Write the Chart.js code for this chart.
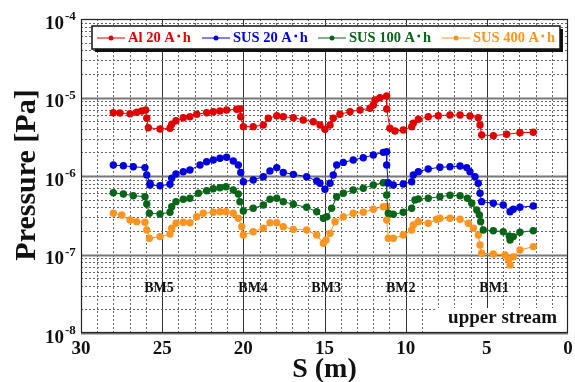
<!DOCTYPE html>
<html>
<head>
<meta charset="utf-8">
<script src="https://cdn.jsdelivr.net/npm/chart.js@4.4.1/dist/chart.umd.min.js"></script>
<style>
  body { margin: 0; background: #fff; }
  #wrap { width: 575px; height: 382px; }
</style>
</head>
<body>
<div id="wrap"><canvas id="chart" width="575" height="382"></canvas></div>
<script>
// S (m) и давление (Pa) по сериям
const sAl = [28.01, 27.60, 26.98, 26.57, 26.26, 26.02, 25.95, 25.85, 25.13, 24.52, 24.41, 24.15, 23.70, 23.29, 22.87, 22.26, 21.85, 21.44, 21.03, 20.41, 20.21, 20.16, 20.00, 19.39, 18.77, 18.46, 17.94, 17.54, 16.92, 16.31, 15.69, 15.28, 14.97, 14.66, 14.46, 14.05, 13.43, 12.81, 12.20, 11.99, 11.89, 11.58, 11.17, 11.17, 10.97, 10.66, 10.15, 9.63, 9.53, 9.22, 8.61, 7.99, 7.27, 6.65, 6.04, 5.53, 5.42, 5.32, 4.60, 3.78, 2.96, 2.14];
const pAl = [6.40e-6, 6.35e-6, 6.22e-6, 6.48e-6, 6.73e-6, 6.93e-6, 5.43e-6, 4.12e-6, 3.97e-6, 4.05e-6, 4.56e-6, 5.06e-6, 5.53e-6, 5.69e-6, 6.11e-6, 6.40e-6, 6.59e-6, 6.73e-6, 6.93e-6, 7.08e-6, 7.14e-6, 5.69e-6, 4.25e-6, 4.25e-6, 4.47e-6, 5.43e-6, 5.86e-6, 5.69e-6, 5.53e-6, 5.17e-6, 4.92e-6, 4.47e-6, 3.94e-6, 4.47e-6, 5.43e-6, 6.11e-6, 6.59e-6, 6.93e-6, 7.28e-6, 8.03e-6, 9.29e-6, 9.94e-6, 1.045e-5, 7.14e-6, 4.05e-6, 3.74e-6, 3.85e-6, 4.25e-6, 4.69e-6, 5.28e-6, 5.69e-6, 5.86e-6, 5.98e-6, 5.98e-6, 5.81e-6, 5.53e-6, 4.47e-6, 3.33e-6, 3.26e-6, 3.40e-6, 3.56e-6, 3.61e-6];

const sSus20 = [28.01, 27.39, 26.78, 26.06, 25.95, 25.75, 25.75, 25.13, 24.52, 24.41, 24.15, 23.70, 23.29, 22.67, 22.26, 21.85, 21.44, 21.03, 20.62, 20.31, 20.16, 20.00, 19.39, 18.77, 18.36, 17.94, 17.54, 16.92, 16.10, 15.48, 15.28, 14.97, 14.66, 14.46, 14.25, 13.84, 13.23, 12.61, 11.99, 11.38, 11.17, 11.17, 11.07, 10.76, 10.15, 9.63, 9.53, 9.22, 8.61, 7.89, 7.27, 6.65, 6.24, 6.04, 5.73, 5.53, 5.42, 5.32, 4.60, 3.99, 3.57, 3.37, 2.96, 2.14];
const pSus20 = [1.38e-6, 1.35e-6, 1.31e-6, 1.28e-6, 1.03e-6, 8.07e-7, 7.68e-7, 7.52e-7, 7.84e-7, 9.35e-7, 1.06e-6, 1.135e-6, 1.19e-6, 1.38e-6, 1.52e-6, 1.60e-6, 1.68e-6, 1.73e-6, 1.55e-6, 1.38e-6, 1.11e-6, 8.46e-7, 8.89e-7, 9.80e-7, 1.16e-6, 1.28e-6, 1.11e-6, 1.05e-6, 9.80e-7, 8.64e-7, 8.07e-7, 6.77e-7, 8.07e-7, 1.03e-6, 1.38e-6, 1.49e-6, 1.60e-6, 1.71e-6, 1.85e-6, 2.00e-6, 2.04e-6, 1.38e-6, 8.15e-7, 7.68e-7, 7.91e-7, 8.46e-7, 1.03e-6, 1.135e-6, 1.23e-6, 1.29e-6, 1.31e-6, 1.34e-6, 1.28e-6, 1.135e-6, 9.80e-7, 8.07e-7, 6.02e-7, 4.71e-7, 4.49e-7, 4.27e-7, 3.51e-7, 3.77e-7, 3.99e-7, 4.15e-7];

const sSus100 = [28.01, 27.39, 26.78, 26.06, 25.95, 25.79, 25.13, 24.52, 24.41, 24.15, 23.70, 23.29, 22.77, 22.26, 21.85, 21.44, 21.07, 20.62, 20.31, 20.21, 20.00, 19.39, 18.77, 18.36, 17.94, 17.54, 16.92, 16.10, 15.48, 15.07, 14.86, 14.56, 14.25, 13.84, 13.23, 12.61, 11.99, 11.38, 11.17, 11.17, 11.07, 10.76, 10.15, 9.63, 9.43, 9.22, 8.61, 7.89, 7.27, 6.65, 6.20, 5.93, 5.62, 5.46, 5.38, 5.22, 4.60, 3.99, 3.62, 3.57, 3.37, 2.96, 2.14];
const pSus100 = [6.13e-7, 5.90e-7, 5.61e-7, 5.45e-7, 4.40e-7, 3.35e-7, 3.28e-7, 3.45e-7, 4.06e-7, 4.71e-7, 5.05e-7, 5.20e-7, 6.02e-7, 6.50e-7, 6.89e-7, 7.10e-7, 7.31e-7, 6.64e-7, 5.90e-7, 4.71e-7, 3.58e-7, 3.88e-7, 4.27e-7, 5.05e-7, 5.20e-7, 4.71e-7, 4.36e-7, 3.99e-7, 3.51e-7, 2.89e-7, 3.03e-7, 3.88e-7, 5.45e-7, 6.02e-7, 6.64e-7, 6.97e-7, 7.68e-7, 8.22e-7, 8.22e-7, 5.73e-7, 3.35e-7, 3.25e-7, 3.45e-7, 3.88e-7, 4.95e-7, 5.09e-7, 5.20e-7, 5.45e-7, 5.68e-7, 5.61e-7, 5.20e-7, 4.49e-7, 3.69e-7, 3.18e-7, 2.62e-7, 2.05e-7, 2.01e-7, 1.95e-7, 1.72e-7, 1.53e-7, 1.69e-7, 1.92e-7, 2.01e-7];

const sSus400 = [28.01, 27.49, 26.98, 26.57, 26.06, 25.95, 25.79, 25.13, 24.52, 24.41, 24.15, 23.70, 23.29, 22.87, 22.47, 21.85, 21.44, 21.07, 20.62, 20.31, 20.10, 20.00, 19.39, 18.77, 18.36, 17.94, 17.54, 16.92, 16.10, 15.48, 15.07, 14.91, 14.66, 14.35, 13.84, 13.23, 12.61, 11.99, 11.38, 11.17, 11.17, 11.07, 10.76, 10.15, 9.63, 9.53, 9.22, 8.61, 8.09, 7.89, 7.27, 6.65, 6.14, 5.83, 5.53, 5.42, 5.32, 4.60, 3.88, 3.68, 3.57, 3.37, 2.96, 2.14];
const pSus400 = [3.35e-7, 3.18e-7, 2.75e-7, 2.62e-7, 2.57e-7, 2.05e-7, 1.61e-7, 1.69e-7, 1.82e-7, 2.16e-7, 2.50e-7, 2.57e-7, 2.54e-7, 3.03e-7, 3.35e-7, 3.45e-7, 3.51e-7, 3.51e-7, 3.35e-7, 2.89e-7, 2.26e-7, 1.77e-7, 1.95e-7, 2.16e-7, 2.54e-7, 2.54e-7, 2.26e-7, 2.09e-7, 2.05e-7, 1.77e-7, 1.39e-7, 1.53e-7, 1.86e-7, 2.62e-7, 3.03e-7, 3.35e-7, 3.45e-7, 3.77e-7, 4.06e-7, 4.06e-7, 2.75e-7, 1.61e-7, 1.61e-7, 1.77e-7, 2.05e-7, 2.38e-7, 2.62e-7, 2.50e-7, 2.81e-7, 2.89e-7, 2.89e-7, 2.81e-7, 2.50e-7, 2.16e-7, 1.77e-7, 1.32e-7, 1.04e-7, 1.015e-7, 9.85e-8, 8.69e-8, 7.35e-8, 9.37e-8, 1.14e-7, 1.26e-7];

const seriesLabels = ['Al 20 A\uFF65h', 'SUS 20 A\uFF65h', 'SUS 100 A\uFF65h', 'SUS 400 A\uFF65h'];
const seriesColors = ['#e00000', '#0000dc', '#086418', '#ff9420'];

// подписи магнитов и отметки осей
const bmNames = ['BM5', 'BM4', 'BM3', 'BM2', 'BM1'];
const bmPos = [25.2, 19.4, 14.9, 10.3, 4.55];
const xTicks = [30, 25, 20, 15, 10, 5, 0];
const yExps = [-8, -7, -6, -5, -4];

const SERIF = '"Liberation Serif", "Times New Roman", serif';

function toPoints(s, p) {
  return s.map((v, i) => ({ x: v, y: p[i] }));
}

const allS = [sAl, sSus20, sSus100, sSus400];
const allP = [pAl, pSus20, pSus100, pSus400];

const datasets = allS.map((s, i) => ({
  label: seriesLabels[i],
  data: toPoints(s, allP[i]),
  borderColor: seriesColors[i],
  backgroundColor: seriesColors[i],
  borderWidth: 1,
  pointRadius: 3.7,
  pointBorderWidth: 0,
  tension: 0
}));

// сетка, подписи, легенда
const decorPlugin = {
  id: 'decor',
  beforeDatasetsDraw(chart) {
    const { ctx, chartArea: a, scales: { x, y } } = chart;
    ctx.save();
    ctx.lineWidth = 1;
    // вертикальная сетка
    for (let v = 1; v < 30; v++) {
      const px = Math.round(x.getPixelForValue(v)) + 0.5;
      ctx.beginPath();
      if (v % 5 === 0) {
        ctx.setLineDash([]);
        ctx.strokeStyle = '#333';
      } else {
        ctx.setLineDash([2, 2]);
        ctx.strokeStyle = '#666';
      }
      ctx.moveTo(px, a.top);
      ctx.lineTo(px, a.bottom);
      ctx.stroke();
    }
    // горизонтальная сетка
    for (let e = -8; e < -4; e++) {
      for (let k = 1; k < 10; k++) {
        const py = Math.round(y.getPixelForValue(k * Math.pow(10, e))) + 0.5;
        ctx.beginPath();
        if (k === 1) {
          ctx.setLineDash([]);
          ctx.strokeStyle = '#777';
          ctx.lineWidth = 2;
        } else {
          ctx.setLineDash([2, 2]);
          ctx.strokeStyle = '#666';
          ctx.lineWidth = 1;
        }
        ctx.moveTo(a.left, py);
        ctx.lineTo(a.right, py);
        ctx.stroke();
      }
    }
    ctx.setLineDash([]);
    // белая плашка под "upper stream"
    ctx.fillStyle = '#fff';
    ctx.fillRect(437, 308, a.right - 437, a.bottom - 308);
    // рамка
    ctx.strokeStyle = '#222';
    ctx.lineWidth = 1.2;
    ctx.strokeRect(a.left + 0.5, a.top + 0.5, a.right - a.left - 1, a.bottom - a.top - 1);
    ctx.restore();
  },
  afterDatasetsDraw(chart) {
    const { ctx, chartArea: a, scales: { x, y } } = chart;
    ctx.save();
    ctx.fillStyle = '#111';

    // подписи оси X
    ctx.font = 'bold 19px ' + SERIF;
    ctx.textAlign = 'center';
    ctx.textBaseline = 'middle';
    xTicks.forEach(v => ctx.fillText(String(v), x.getPixelForValue(v), 349));

    // подписи оси Y: 10^n
    yExps.forEach(e => {
      const py = y.getPixelForValue(Math.pow(10, e));
      ctx.font = 'bold 19px ' + SERIF;
      ctx.textAlign = 'left';
      ctx.textBaseline = 'middle';
      ctx.fillText('10', 45, py + 5);
      ctx.font = 'bold 13px ' + SERIF;
      ctx.fillText(String(e), 65, py - 2);
    });

    // заголовки осей
    ctx.font = 'bold 28px ' + SERIF;
    ctx.textAlign = 'center';
    ctx.textBaseline = 'middle';
    ctx.fillText('S (m)', (a.left + a.right) / 2, 370);
    ctx.save();
    ctx.translate(27, 175);
    ctx.rotate(-Math.PI / 2);
    ctx.font = 'bold 30px ' + SERIF;
    ctx.fillText('Pressure [Pa]', 0, 0);
    ctx.restore();

    // BM подписи
    ctx.font = 'bold 14px ' + SERIF;
    bmNames.forEach((n, i) => ctx.fillText(n, x.getPixelForValue(bmPos[i]), 288));

    // upper stream
    ctx.font = 'bold 19px ' + SERIF;
    ctx.textAlign = 'right';
    ctx.fillText('upper stream', 557, 318);

    // легенда
    const lx = 92, ly = 26, lw = 468, lh = 23;
    ctx.fillStyle = '#111';
    ctx.fillRect(lx + 3, ly + 3, lw, lh);
    ctx.fillStyle = '#fff';
    ctx.fillRect(lx, ly, lw, lh);
    ctx.strokeStyle = '#111';
    ctx.lineWidth = 1.5;
    ctx.strokeRect(lx, ly, lw, lh);
    const starts = [97, 202, 318, 442];
    ctx.font = 'bold 14.5px ' + SERIF;
    ctx.textAlign = 'left';
    chart.data.datasets.forEach((ds, i) => {
      const sx = starts[i], cy = ly + lh / 2;
      ctx.strokeStyle = ds.borderColor;
      ctx.lineWidth = 1;
      ctx.beginPath();
      ctx.moveTo(sx, cy + 0.5);
      ctx.lineTo(sx + 28, cy + 0.5);
      ctx.stroke();
      ctx.fillStyle = ds.borderColor;
      ctx.beginPath();
      ctx.arc(sx + 14, cy + 0.5, 2.5, 0, Math.PI * 2);
      ctx.fill();
      ctx.fillText(ds.label, sx + 31, cy + 1);
    });
    ctx.restore();
  }
};

function initChart() {
  const ctx = document.getElementById('chart').getContext('2d');
  new Chart(ctx, {
    type: 'line',
    data: { datasets },
    options: {
      responsive: false,
      animation: false,
      events: [],
      layout: { padding: { left: 0, top: 19, right: 7, bottom: 0 } },
      scales: {
        x: {
          type: 'linear',
          reverse: true,
          min: 0,
          max: 30,
          grid: { display: false },
          border: { display: false },
          ticks: { display: false },
          afterFit: s => { s.height = 49; }
        },
        y: {
          type: 'logarithmic',
          min: 1e-8,
          max: 1e-4,
          grid: { display: false },
          border: { display: false },
          ticks: { display: false },
          afterFit: s => { s.width = 81; }
        }
      },
      plugins: {
        legend: { display: false },
        tooltip: { enabled: false }
      }
    },
    plugins: [decorPlugin]
  });
}

initChart();
</script>
</body>
</html>
